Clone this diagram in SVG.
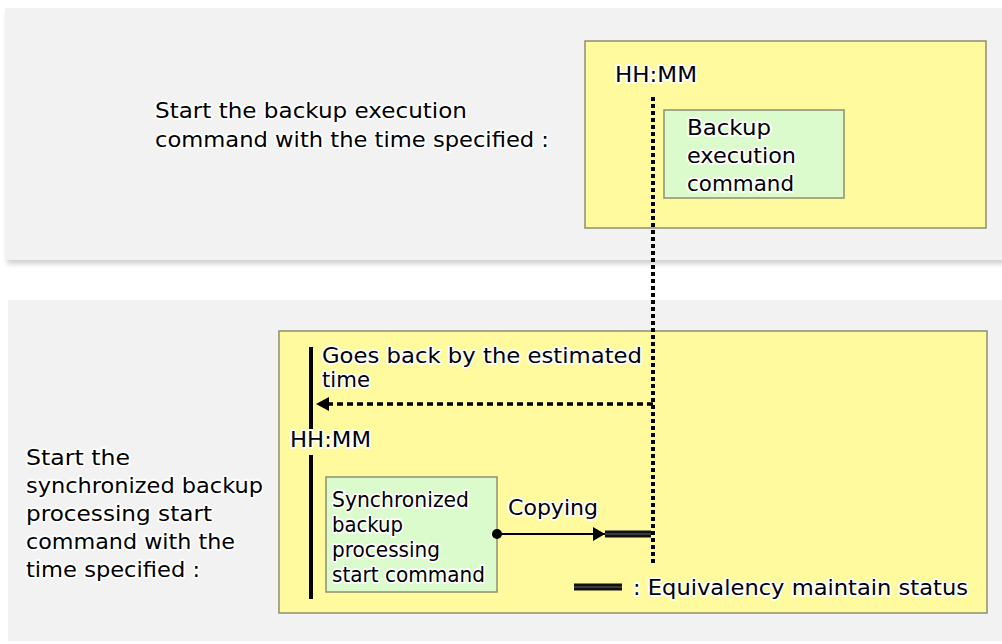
<svg xmlns="http://www.w3.org/2000/svg" width="1002" height="644" viewBox="0 0 1002 644">
<defs>
<filter id="sh" x="-5%" y="-5%" width="110%" height="115%">
<feDropShadow dx="2" dy="4" stdDeviation="2.5" flood-color="#000" flood-opacity="0.18"/>
</filter>
<marker id="ah" viewBox="0 0 12 14" refX="12" refY="7" markerWidth="12" markerHeight="14" markerUnits="userSpaceOnUse" orient="auto">
<path d="M0,0 L12,7 L0,14 z" fill="#000"/>
</marker>
<marker id="dot" viewBox="0 0 10 10" refX="5" refY="5" markerWidth="10" markerHeight="10" markerUnits="userSpaceOnUse">
<circle cx="5" cy="5" r="5" fill="#000"/>
</marker>
</defs>
<style>
text{font-family:"DejaVu Sans","Liberation Sans",sans-serif;font-size:22px;fill:#000;stroke:#fff;stroke-width:3.5px;paint-order:stroke;stroke-linejoin:round}
.panel{fill:#f2f2f2}
.yel{fill:#fffa9e;stroke:#8f8f70;stroke-width:1.5}
.grn{fill:#dbfbcc;stroke:#8f8f70;stroke-width:1.5}
.dotv{stroke:#000;stroke-width:4;stroke-dasharray:4 3;fill:none}
.dash{stroke:#000;stroke-width:3.5;stroke-dasharray:6 4;fill:none}
</style>
<rect width="1002" height="644" fill="#fff"/>
<g id="panel-top">
<rect class="panel" x="5" y="8" width="1002" height="252" filter="url(#sh)"/>
<text x="155" y="118" textLength="312" lengthAdjust="spacingAndGlyphs">Start the backup execution</text>
<text x="155" y="147" textLength="394" lengthAdjust="spacingAndGlyphs">command with the time specified :</text>
</g>
<g id="panel-bottom">
<rect class="panel" x="8" y="300" width="1000" height="341"/>
<text x="26" y="465" textLength="104" lengthAdjust="spacingAndGlyphs">Start the</text>
<text x="26" y="493" textLength="237" lengthAdjust="spacingAndGlyphs">synchronized backup</text>
<text x="26" y="521" textLength="186" lengthAdjust="spacingAndGlyphs">processing start</text>
<text x="26" y="549" textLength="209" lengthAdjust="spacingAndGlyphs">command with the</text>
<text x="26" y="577" textLength="174" lengthAdjust="spacingAndGlyphs">time specified :</text>
</g>
<g id="box-top">
<rect class="yel" x="585" y="41" width="401" height="187"/>
<text x="615" y="82" textLength="82" lengthAdjust="spacingAndGlyphs">HH:MM</text>
</g>
<g id="box-bottom">
<rect class="yel" x="279" y="331" width="708" height="282"/>
</g>
<g id="timeline">
<line x1="311" y1="347" x2="311" y2="429" stroke="#000" stroke-width="4"/>
<line x1="311" y1="455" x2="311" y2="599" stroke="#000" stroke-width="4"/>
<text x="290" y="447" textLength="81" lengthAdjust="spacingAndGlyphs">HH:MM</text>
</g>
<g id="backup-exec">
<rect class="grn" x="664" y="110" width="180" height="88"/>
<text x="687" y="135" textLength="84" lengthAdjust="spacingAndGlyphs">Backup</text>
<text x="687" y="163" textLength="109" lengthAdjust="spacingAndGlyphs">execution</text>
<text x="687" y="191" textLength="107" lengthAdjust="spacingAndGlyphs">command</text>
</g>
<g id="sync-start">
<rect class="grn" x="326" y="477" width="171" height="115"/>
<text x="332" y="507" textLength="137" lengthAdjust="spacingAndGlyphs">Synchronized</text>
<text x="332" y="532" textLength="71" lengthAdjust="spacingAndGlyphs">backup</text>
<text x="332" y="557" textLength="108" lengthAdjust="spacingAndGlyphs">processing</text>
<text x="332" y="582" textLength="153" lengthAdjust="spacingAndGlyphs">start command</text>
</g>
<g id="connectors">
<line class="dotv" x1="653" y1="97" x2="653" y2="566"/>
<path class="dash" d="M653,404 L327,404"/>
<path d="M329,397 L316,404 L329,411 z" fill="#000"/>
<line x1="497" y1="534" x2="605" y2="534" stroke="#000" stroke-width="2" marker-start="url(#dot)" marker-end="url(#ah)"/>
<rect x="605" y="530.5" width="46" height="7" fill="#111"/>
<line x1="605" y1="534" x2="651" y2="534" stroke="#666" stroke-width="1"/>
<text x="322" y="363" textLength="320" lengthAdjust="spacingAndGlyphs">Goes back by the estimated</text>
<text x="322" y="387" textLength="48" lengthAdjust="spacingAndGlyphs">time</text>
<text x="508" y="515" textLength="90" lengthAdjust="spacingAndGlyphs">Copying</text>
</g>
<g id="legend">
<rect x="574" y="583.5" width="48" height="7" fill="#111"/>
<line x1="574" y1="587" x2="622" y2="587" stroke="#666" stroke-width="1"/>
<text x="633" y="595" textLength="335" lengthAdjust="spacingAndGlyphs">: Equivalency maintain status</text>
</g>
</svg>
